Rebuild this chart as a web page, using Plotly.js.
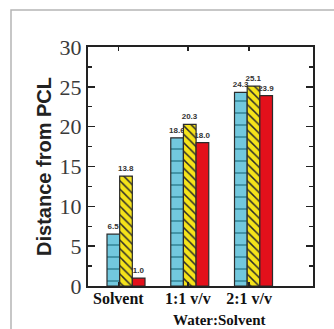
<!DOCTYPE html>
<html>
<head>
<meta charset="utf-8">
<script src="https://cdn.plot.ly/plotly-3.0.1.min.js"></script>
<style>
html,body{margin:0;padding:0;background:#fff;}
#chart{width:334px;height:329px;}
</style>
</head>
<body>
<div id="chart"></div>
<script>
const categories = ["Solvent", "1:1 v/v", "2:1 v/v"];
const blueValues = [6.5, 18.6, 24.3];
const yellowValues = [13.8, 20.3, 25.1];
const redValues = [1.0, 18.0, 23.9];
const xAxisNote = "Water:Solvent";
const yTitle = "Distance from PCL";

const xs = categories.map((c, i) => i + 1);
const fmt = v => v.toFixed(1);

function barTrace(vals, marker) {
  return {
    type: 'bar', x: xs, y: vals,
    text: vals.map(fmt), textposition: 'outside', cliponaxis: false,
    constraintext: 'none',
    textfont: {family: 'Liberation Sans, Arial, sans-serif', size: 8, color: '#333', weight: 'bold'},
    marker: marker, hoverinfo: 'x+y', showlegend: false
  };
}

const data = [
  barTrace(blueValues, {color: '#72c8de', line: {color: '#2b2b2b', width: 1.2},
    pattern: {shape: '-', size: 12, solidity: 0.12, fgcolor: '#2f7f92', bgcolor: '#72c8de', fillmode: 'replace'}}),
  barTrace(yellowValues, {color: '#f5e31a', line: {color: '#2b2b2b', width: 1.2},
    pattern: {shape: '\\', size: 6, solidity: 0.25, fgcolor: '#2b2b2b', bgcolor: '#f5e31a', fillmode: 'replace'}}),
  barTrace(redValues, {color: '#e3101b', line: {color: '#2b2b2b', width: 1.2}})
];

const layout = {
  width: 334, height: 329,
  margin: {l: 88, r: 21, t: 47, b: 43},
  paper_bgcolor: '#fff', plot_bgcolor: '#fff',
  barmode: 'group', bargap: 0.404, bargroupgap: 0,
  xaxis: {
    range: [0.404, 3.933], showgrid: false, zeroline: false,
    showline: true, linecolor: '#222', linewidth: 2, mirror: 'ticks',
    ticks: 'inside', ticklen: 4, tickcolor: '#222', tickwidth: 1.5,
    tickvals: [0.88, 1.97, 2.93], ticktext: categories,
    ticklabelstandoff: -3,
    tickfont: {family: 'Liberation Serif, Times New Roman, serif', size: 16, color: '#111', weight: 'bold'},
    fixedrange: true
  },
  yaxis: {
    range: [0, 30], showgrid: false, zeroline: false,
    showline: true, linecolor: '#222', linewidth: 2, mirror: 'ticks',
    ticks: 'inside', ticklen: 7, tickcolor: '#222', tickwidth: 1.5,
    dtick: 5, tick0: 0,
    minor: {dtick: 2.5, ticks: 'inside', ticklen: 4, tickcolor: '#222', tickwidth: 1.2},
    tickfont: {family: 'Liberation Serif, Times New Roman, serif', size: 22, color: '#3a3a3a'},
    title: {text: yTitle, standoff: 3, font: {family: 'Liberation Sans, Arial, sans-serif', size: 20, color: '#222', weight: 'bold'}},
    automargin: false, fixedrange: true
  },
  annotations: [{
    text: xAxisNote, xref: 'paper', yref: 'paper', x: (219 - 88) / 225, y: (286 - 330) / 239,
    xanchor: 'center', yanchor: 'bottom', showarrow: false,
    font: {family: 'Liberation Serif, Times New Roman, serif', size: 15, color: '#111', weight: 'bold'}
  }],
  shapes: [{
    type: 'path', xref: 'paper', yref: 'paper',
    path: 'M ' + ((11 - 88) / 225) + ' ' + ((286 - 340) / 239) + ' L ' + ((11 - 88) / 225) + ' ' + ((286 - 10) / 239) +
          ' L ' + ((340 - 88) / 225) + ' ' + ((286 - 10) / 239),
    line: {color: '#b5b5b5', width: 1.5}
  }]
};

Plotly.newPlot('chart', data, layout, {staticPlot: true});
</script>
</body>
</html>
